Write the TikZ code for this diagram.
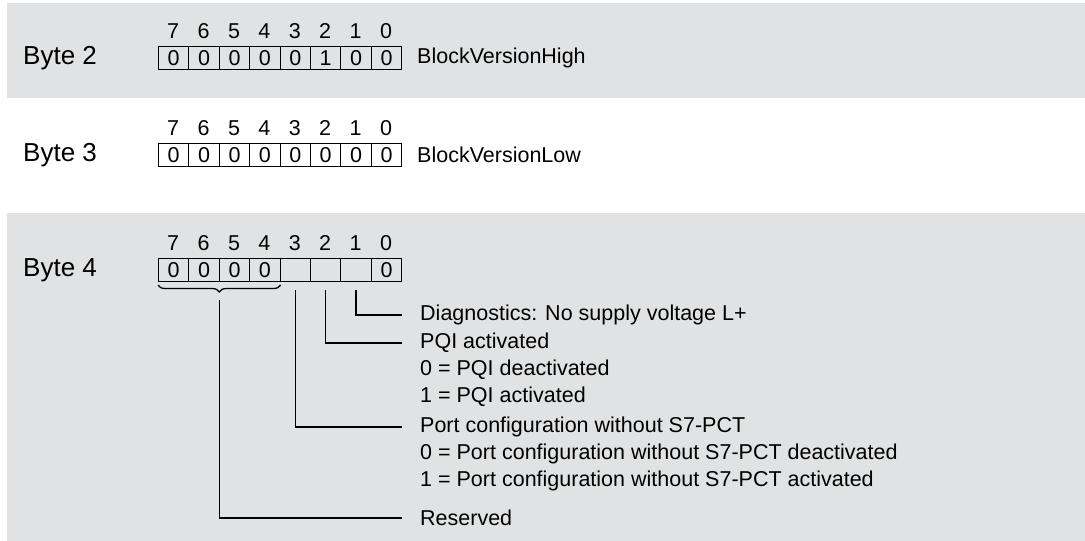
\documentclass[tikz,border=0pt]{standalone}
\usepackage{fontspec}
\setmainfont{Liberation Sans}
\usetikzlibrary{decorations.pathreplacing}
\definecolor{band}{RGB}{225,226,227}
\begin{document}
\begin{tikzpicture}[x=1pt,y=-1pt,
  cell/.style={draw, line width=1pt, minimum width=30.4pt, minimum height=23pt, inner sep=0pt, anchor=west, font=\fontsize{21.5}{21.5}\selectfont},
  hdr/.style={inner sep=0pt, font=\fontsize{21.5}{21.5}\selectfont},
  bytelbl/.style={anchor=west, inner sep=0pt, font=\fontsize{26}{26}\selectfont},
  desc/.style={anchor=west, inner sep=0pt, font=\fontsize{21.5}{21.5}\selectfont},
  lead/.style={line width=1.3pt}]
\useasboundingbox (0,0) rectangle (1085,541);
\fill[band] (7,3) rectangle (1085,98);
\fill[band] (7,213) rectangle (1085,541);
% Byte 2
\node[bytelbl] (l2) at (23,58) {Byte 2};
\foreach \v [count=\i from 0] in {0,0,0,0,0,1,0,0} {
  \pgfmathtruncatemacro\bit{7-\i}
  \node[cell] (b2c\bit) at (158+30.4*\i,58) {\v};
  \node[hdr] (b2h\bit) at (173.2+30.4*\i,31) {\bit};
}
\node[desc] (t2) at (417,58) {BlockVersionHigh};
% Byte 3
\node[bytelbl] (l3) at (23,155) {Byte 3};
\foreach \v [count=\i from 0] in {0,0,0,0,0,0,0,0} {
  \pgfmathtruncatemacro\bit{7-\i}
  \node[cell] (b3c\bit) at (158+30.4*\i,155) {\v};
  \node[hdr] (b3h\bit) at (173.2+30.4*\i,128) {\bit};
}
\node[desc] (t3) at (417,155) {BlockVersionLow};
% Byte 4
\node[bytelbl] (l4) at (23,270) {Byte 4};
\foreach \v [count=\i from 0] in {0,0,0,0,{},{},{},0} {
  \pgfmathtruncatemacro\bit{7-\i}
  \node[cell] (b4c\bit) at (158+30.4*\i,270) {\v};
  \node[hdr] (b4h\bit) at (173.2+30.4*\i,243) {\bit};
}
\draw[lead, decorate, decoration={brace, mirror, amplitude=7pt}] ([yshift=-3pt]b4c7.south west) -- ([yshift=-3pt]b4c4.south east) coordinate[midway, yshift=-9pt] (bt);
\node[desc] (d1) at (420,315) {Diagnostics: No supply voltage L+};
\node[desc] (d2) at (420,343) {PQI activated};
\node[desc] (d2a) at (420,370) {0 = PQI deactivated};
\node[desc] (d2b) at (420,397) {1 = PQI activated};
\node[desc] (d3) at (420,427) {Port configuration without S7-PCT};
\node[desc] (d3a) at (420,454) {0 = Port configuration without S7-PCT deactivated};
\node[desc] (d3b) at (420,481) {1 = Port configuration without S7-PCT activated};
\node[desc] (d4) at (420,518) {Reserved};
\draw[lead] ([yshift=-8pt]b4c1.south) |- ([xshift=-18pt]d1.west);
\draw[lead] ([yshift=-8pt]b4c2.south) |- ([xshift=-18pt]d2.west);
\draw[lead] ([yshift=-8pt]b4c3.south) |- ([xshift=-18pt]d3.west);
\draw[lead] ([yshift=-6pt]bt) |- ([xshift=-18pt]d4.west);
\end{tikzpicture}
\end{document}
